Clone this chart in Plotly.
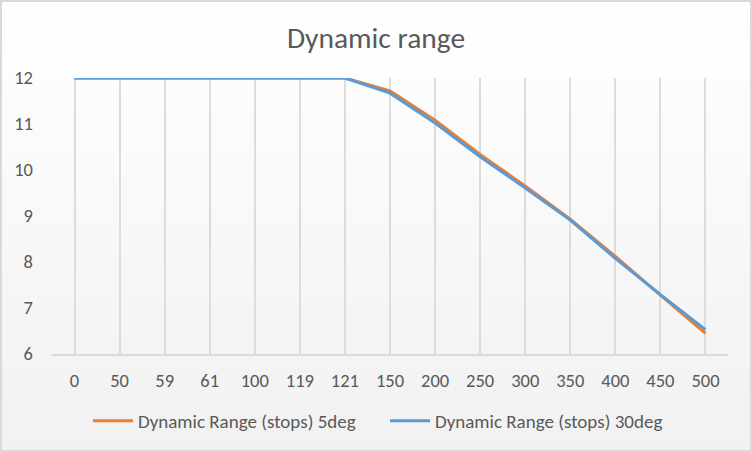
import base64
import plotly.graph_objects as go

categories = ["0", "50", "59", "61", "100", "119", "121", "150", "200", "250", "300", "350", "400", "450", "500"]
dr_5deg = [12, 12, 12, 12, 12, 12, 12, 11.72, 11.08, 10.34, 9.65, 8.93, 8.12, 7.28, 6.45]
dr_30deg = [12, 12, 12, 12, 12, 12, 12, 11.67, 11.02, 10.29, 9.61, 8.91, 8.08, 7.29, 6.53]
y_ticks = [6, 7, 8, 9, 10, 11, 12]

W, H = 752, 452
ML, MR, MT, MB = 52, 24, 78, 98
PW, PH = W - ML - MR, H - MT - MB

FONT = "Carlito, Calibri, 'Liberation Sans Narrow', 'Arial Narrow', sans-serif"
GREY = "#595959"

svg = (
    f'<svg xmlns="http://www.w3.org/2000/svg" width="{W}" height="{H}" viewBox="0 0 {W} {H}" preserveAspectRatio="none">'
    '<defs><linearGradient id="g" x1="0" y1="0" x2="0" y2="1">'
    '<stop offset="0" stop-color="#ffffff"/><stop offset="1" stop-color="#f1f1f1"/>'
    '</linearGradient></defs>'
    f'<rect x="1" y="1" width="{W-2}" height="{H-2}" fill="url(#g)" stroke="#d9d9d9" stroke-width="2"/>'
    '</svg>'
)
src = "data:image/svg+xml;base64," + base64.b64encode(svg.encode()).decode()

fig = go.Figure()
fig.add_trace(go.Scatter(x=categories, y=dr_5deg, mode="lines",
                         name="Dynamic Range (stops) 5deg",
                         line=dict(color="#ED7D31", width=3)))
fig.add_trace(go.Scatter(x=categories, y=dr_30deg, mode="lines",
                         name="Dynamic Range (stops) 30deg",
                         line=dict(color="#5B9BD5", width=3)))

fig.update_layout(
    width=W, height=H,
    margin=dict(l=ML, r=MR, t=MT, b=MB),
    paper_bgcolor="white",
    plot_bgcolor="rgba(0,0,0,0)",
    font=dict(family=FONT, color=GREY, size=18),
    title=dict(text="Dynamic range", x=0.5, xanchor="center", xref="container",
               y=1 - 38 / H, yanchor="middle", yref="container",
               font=dict(family=FONT, size=29.5, color=GREY)),
    showlegend=True,
    legend=dict(orientation="h", x=(88 - ML) / PW, xanchor="left", y=-(421 - 354) / PH,
                yanchor="middle", font=dict(family=FONT, size=19, color=GREY),
                bgcolor="rgba(0,0,0,0)", traceorder="normal",
                itemwidth=40, entrywidth=242, entrywidthmode="pixels"),
    images=[dict(source=src, xref="paper", yref="paper",
                 x=-ML / PW, y=1 + MT / PH, sizex=W / PW, sizey=H / PH,
                 xanchor="left", yanchor="top", sizing="stretch", layer="below")],
)
fig.update_xaxes(type="category", range=[-0.5, len(categories) - 0.5],
                 showgrid=True, gridcolor="#dcdcdc", gridwidth=2,
                 showline=True, linecolor="#d9d9d9", linewidth=1.5,
                 ticks="", ticklabelstandoff=9, tickfont=dict(size=18.5, color=GREY),
                 zeroline=False, fixedrange=True)
fig.update_yaxes(range=[6, 12], tickvals=y_ticks, showgrid=False, zeroline=False,
                 showline=False, ticks="", ticklabelstandoff=18,
                 tickfont=dict(size=18.5, color=GREY), fixedrange=True)

fig.write_html("out.html", config={"displayModeBar": False},
               post_script="document.body.style.margin='0';")
